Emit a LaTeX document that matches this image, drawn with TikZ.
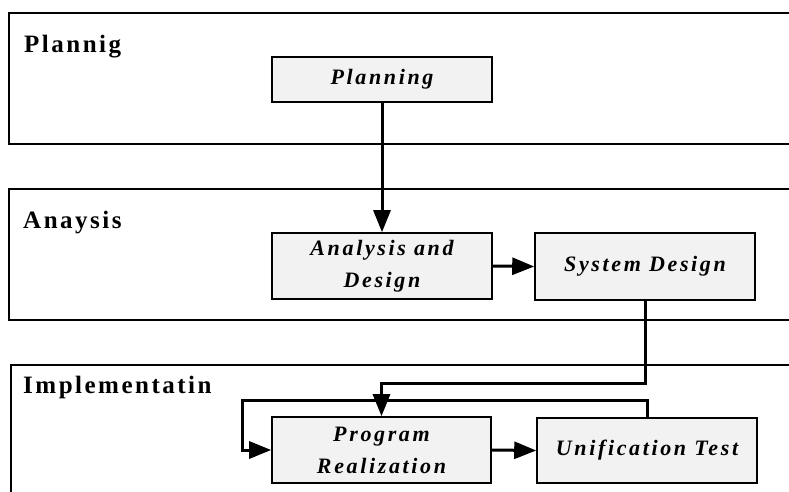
\documentclass[tikz,border=0pt]{standalone}
\usepackage{fontspec}
\setmainfont{Liberation Serif}
\newfontfamily\lanefont[LetterSpace=10]{Liberation Serif}
\newfontfamily\stagefont[LetterSpace=12]{Liberation Serif}
\usetikzlibrary{arrows.meta}
\begin{document}
\begin{tikzpicture}[x=1pt,y=-1pt,
  lane/.style={draw=black,line width=1.4pt},
  lanelabel/.style={anchor=base west,inner sep=0pt,
    font=\lanefont\bfseries\fontsize{25}{28}\selectfont},
  stage/.style={draw=black,line width=1.6pt,fill=black!5,inner sep=0pt,
    align=center,font=\stagefont\bfseries\itshape\fontsize{22}{32}\selectfont},
  flow/.style={line width=3pt,-{Triangle[length=22pt,width=17pt]}}]
\useasboundingbox (0,0) rectangle (789,491);
\clip (0,0) rectangle (789,491);

% swim lanes
\draw[lane] (9,13) rectangle (800,144);
\draw[lane] (9,189) rectangle (800,320);
\draw[lane] (11,520) -- (11,365) -- (800,365);

\node[lanelabel] (lplan) at (24,52) {Plannig};
\node[lanelabel] (lana) at (23,228) {Anaysis};
\node[lanelabel] (limp) at (23,393) {Implementatin};

% stages
\node[stage,minimum width=220pt,minimum height=45pt] (plan) at (382,79.5) {Planning};
\node[stage,minimum width=220pt,minimum height=66pt] (anl) at (382,266) {Analysis and\\Design};
\node[stage,minimum width=220pt,minimum height=67pt] (sys) at (645,266.5) {System Design};
\node[stage,minimum width=219pt,minimum height=66pt] (prog) at (381.5,450) {Program\\Realization};
\node[stage,minimum width=220pt,minimum height=65pt] (unif) at (647,450.5) {Unification Test};

% flow
\coordinate (drop) at (645,383);
\coordinate (loop) at (242,400);
\draw[flow] (plan.south) -- (anl.north);
\draw[flow] (anl.east) -- (sys.west);
\draw[flow] (sys.south) -- (drop) -| (prog.north);
\draw[flow] (unif.north) |- (loop) |- (prog.west);
\draw[flow] (prog.east) -- (unif.west);
\end{tikzpicture}
\end{document}
